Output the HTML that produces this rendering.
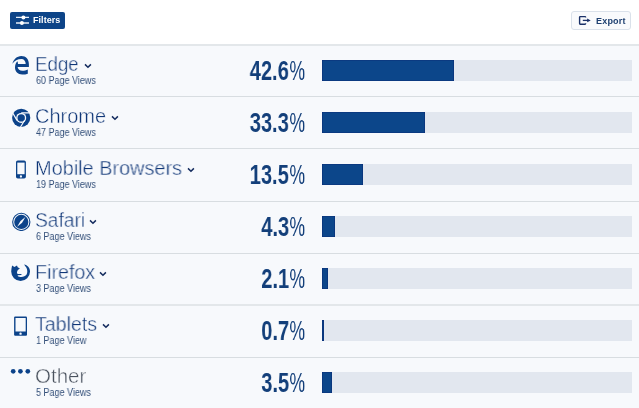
<!DOCTYPE html>
<html><head><meta charset="utf-8"><style>
*{margin:0;padding:0;box-sizing:border-box}
.lab,.sub,.pd,.pp,#filters span,#export span{will-change:transform}
html,body{width:639px;height:408px;overflow:hidden;background:#fff;font-family:"Liberation Sans",sans-serif}
.btn{position:absolute;border-radius:2px}
#filters{left:10px;top:12px;width:55px;height:17px;background:#0d4488}
#filters span{position:absolute;left:23px;top:3px;font-size:9px;font-weight:bold;color:#fff;letter-spacing:0.05px}
#export{left:571px;top:11px;width:60px;height:19px;background:#f9fafc;border:1px solid #dae1ea;border-radius:3px}
#export span{position:absolute;left:24px;top:3.5px;font-size:9px;font-weight:bold;color:#1d3f70;letter-spacing:0.2px}
.rows{position:absolute;left:0;top:45px;width:639px;height:363px;background:#f7f9fc}
.ln{position:absolute;left:0;width:639px;height:1px;background:#d8dde1}
.row{position:absolute;left:0;width:639px;height:52px}
.ic{position:absolute}
.lab{position:absolute;left:35.3px;top:-8px;font-size:20px;line-height:24px;color:#0f3677;white-space:nowrap;transform-origin:0 50%;-webkit-text-stroke:0.42px #f7f9fc}
.lab.o{color:#4a525e}
.chev{position:absolute;top:0;width:8px;height:10px}
.sub{position:absolute;left:36px;top:14.8px;font-size:10px;line-height:11px;color:#34507a;white-space:nowrap;transform:scaleX(0.9);transform-origin:0 50%}
.pct{position:absolute;left:0;width:305px;top:-4.1px;height:28px;font-size:28.2px;line-height:28px;color:#133f7a;white-space:nowrap}
.pd{position:absolute;right:16px;top:0;font-weight:bold;transform:scaleX(0.713);transform-origin:right center}
.pp{position:absolute;right:0.3px;top:0;font-weight:normal;transform:scaleX(0.62);transform-origin:right center}
.trk{position:absolute;left:322px;top:0;width:310px;height:21px;background:#e2e7ef}
.bar{position:absolute;left:0;top:0;height:21px;background:#0c468a;box-shadow:inset 0 0 0 0.6px #0a2f78}
</style></head><body>
<div class="btn" id="filters"><svg style="position:absolute;left:5px;top:2px" width="15" height="14" viewBox="5 2 15 14"><path d="M6 5.4 H19 M6 11 H19" stroke="#e8eef8" stroke-width="1.3"/><circle cx="13.4" cy="5.4" r="2" fill="#fff"/><circle cx="11.9" cy="11" r="2" fill="#fff"/></svg><span>Filters</span></div>
<div class="btn" id="export"><svg style="position:absolute;left:6px;top:2.5px" width="14" height="11" viewBox="578 15 14 11"><path d="M585.6 17.6 V17.2 Q585.6 16.6 585 16.6 H580.2 Q579.6 16.6 579.6 17.2 V23.6 Q579.6 24.2 580.2 24.2 H585 Q585.6 24.2 585.6 23.6 V23.2" fill="none" stroke="#1a3068" stroke-width="1.4"/><path d="M582.8 20.4 H588" stroke="#1a3068" stroke-width="1.3"/><path d="M587.2 18.6 L590.7 20.4 L587.2 22.2 Z" fill="#1a3068"/></svg><span>Export</span></div>
<div class="rows"></div>

<div class="ln" style="top:44px;height:2px;background:#e3e7ea"></div>
<div class="ln" style="top:96px"></div>
<div class="ln" style="top:148px"></div>
<div class="ln" style="top:201px"></div>
<div class="ln" style="top:253px"></div>
<div class="ln" style="top:304px;height:2px;background:#e3e7ea"></div>
<div class="ln" style="top:357px"></div>
<div class="row" style="top:60px"><svg class="ic" style="left:11px;top:-5px" width="20" height="21" viewBox="0 0 20 21"><g transform="translate(0.00,0.40)"><path fill="#0c438a" d="M1.4 8.3 C2.4 4.2 6.0 0.6 10.3 0.6 C15.0 0.6 18.0 4.1 17.9 9.0 L17.9 11.5 L6.6 11.5 C6.9 13.9 8.8 15.3 11.3 15.3 C13.4 15.3 15.2 14.7 16.8 14.0 L16.8 18.3 C15.2 18.9 13.3 19.2 11.2 19.2 C6.8 19.2 4.0 16.2 4.0 12.2 C4.0 9.6 4.8 7.4 6.4 5.8 C6.9 6.8 7.0 7.6 7.0 8.6 L14.7 8.6 C14.7 5.6 12.9 3.6 10.5 3.6 C6.5 3.6 3.4 5.6 1.4 8.3 Z"/></g></svg><div class="lab" style="transform:scaleX(0.935)">Edge</div><svg class="chev" style="left:83.6px" width="8" height="10" viewBox="83.6 0 8 10"><path d="M84.6 4.4 L87.55 7.2 L90.5 4.4" fill="none" stroke="#142c5e" stroke-width="1.5"/></svg><div class="sub">60 Page Views</div><div class="pct"><span class="pd">42.6</span><span class="pp">%</span></div><div class="trk"><div class="bar" style="width:132.0px"></div></div></div>
<div class="row" style="top:112px"><svg class="ic" style="left:12px;top:-4px" width="19" height="19" viewBox="0 0 19 19"><g transform="translate(0.00,0.50)"><circle cx="9.2" cy="9.3" r="9.1" fill="#0c438a"/><circle cx="9.2" cy="9.4" r="5.0" fill="#f7f9fc"/><circle cx="9.2" cy="9.4" r="3.7" fill="#0c438a"/><path d="M9.2 4.4 L17.6 4.4 M5.0 11.9 L0.9 4.7 M12.6 11.7 L8.4 18.7" stroke="#f7f9fc" stroke-width="1.2"/></g></svg><div class="lab" style="transform:scaleX(0.996)">Chrome</div><svg class="chev" style="left:111.1px" width="8" height="10" viewBox="111.1 0 8 10"><path d="M112.1 4.4 L115.05 7.2 L118.0 4.4" fill="none" stroke="#142c5e" stroke-width="1.5"/></svg><div class="sub">47 Page Views</div><div class="pct"><span class="pd">33.3</span><span class="pp">%</span></div><div class="trk"><div class="bar" style="width:103.0px"></div></div></div>
<div class="row" style="top:164px"><svg class="ic" style="left:16px;top:-4px" width="10" height="19" viewBox="0 0 10 19"><g transform="translate(0.00,0.40)"><rect x="0" y="0" width="9.9" height="18.2" rx="1.8" fill="#0c438a"/><rect x="1.3" y="2.2" width="7.3" height="11.6" fill="#f7f9fc"/><circle cx="4.95" cy="16.1" r="1.15" fill="#f7f9fc"/></g></svg><div class="lab" style="transform:scaleX(0.995)">Mobile Browsers</div><svg class="chev" style="left:187.2px" width="8" height="10" viewBox="187.2 0 8 10"><path d="M188.2 4.4 L191.15 7.2 L194.1 4.4" fill="none" stroke="#142c5e" stroke-width="1.5"/></svg><div class="sub">19 Page Views</div><div class="pct"><span class="pd">13.5</span><span class="pp">%</span></div><div class="trk"><div class="bar" style="width:41.0px"></div></div></div>
<div class="row" style="top:216px"><svg class="ic" style="left:12px;top:-4px" width="19" height="19" viewBox="0 0 19 19"><g transform="translate(0.00,0.50)"><circle cx="9.3" cy="9.4" r="8.6" fill="none" stroke="#0c438a" stroke-width="1.1"/><circle cx="9.3" cy="9.4" r="7.1" fill="#0c438a"/><path d="M13.4 4.5 L10.1 10.2 L5.1 14.3 L8.5 8.6 Z" fill="#f7f9fc"/></g></svg><div class="lab" style="transform:scaleX(0.96)">Safari</div><svg class="chev" style="left:89.4px" width="8" height="10" viewBox="89.4 0 8 10"><path d="M90.4 4.4 L93.35 7.2 L96.3 4.4" fill="none" stroke="#142c5e" stroke-width="1.5"/></svg><div class="sub">6 Page Views</div><div class="pct"><span class="pd">4.3</span><span class="pp">%</span></div><div class="trk"><div class="bar" style="width:13.3px"></div></div></div>
<div class="row" style="top:268px"><svg class="ic" style="left:10px;top:-5px" width="20" height="20" viewBox="0 0 20 20"><g transform="translate(0.50,0.50)"><path fill="#0c438a" d="M13.6 1.1 C17.0 1.5 19.6 4.6 19.5 8.2 A9.4 9.4 0 0 1 10.1 17.4 A9.4 9.4 0 0 1 0.7 8.0 L1.0 5.0 L1.6 2.0 L3.9 3.4 L6.5 2.0 L7.2 3.8 L9.4 5.1 L7.3 6.6 L6.4 8.8 L7.0 10.4 L11.0 10.5 L10.9 11.6 L7.3 11.7 L7.2 12.4 C9.0 13.9 14.4 14.0 16.1 11.0 C17.3 8.8 16.9 5.0 15.0 3.0 Z"/></g></svg><div class="lab" style="transform:scaleX(0.985)">Firefox</div><svg class="chev" style="left:99.3px" width="8" height="10" viewBox="99.3 0 8 10"><path d="M100.3 4.4 L103.25 7.2 L106.2 4.4" fill="none" stroke="#142c5e" stroke-width="1.5"/></svg><div class="sub">3 Page Views</div><div class="pct"><span class="pd">2.1</span><span class="pp">%</span></div><div class="trk"><div class="bar" style="width:6.0px"></div></div></div>
<div class="row" style="top:320px"><svg class="ic" style="left:14px;top:-4px" width="14" height="21" viewBox="0 0 14 21"><g transform="translate(0.10,0.40)"><rect x="0" y="0" width="12.9" height="19.4" rx="1.1" fill="#0c438a"/><rect x="1.4" y="1.6" width="10.2" height="13.5" fill="#f7f9fc"/><circle cx="6.45" cy="17.25" r="1.2" fill="#f7f9fc"/></g></svg><div class="lab" style="transform:scaleX(0.98)">Tablets</div><svg class="chev" style="left:102.3px" width="8" height="10" viewBox="102.3 0 8 10"><path d="M103.3 4.4 L106.25 7.2 L109.2 4.4" fill="none" stroke="#142c5e" stroke-width="1.5"/></svg><div class="sub">1 Page View</div><div class="pct"><span class="pd">0.7</span><span class="pp">%</span></div><div class="trk"><div class="bar" style="width:1.7px"></div></div></div>
<div class="row" style="top:372px"><svg class="ic" style="left:10px;top:-4px" width="22" height="7" viewBox="0 0 22 7"><g transform="translate(0.00,0.00)"><circle cx="3.2" cy="3.3" r="2.35" fill="#0c438a"/><circle cx="10.4" cy="3.3" r="2.35" fill="#0c438a"/><circle cx="17.8" cy="3.3" r="2.35" fill="#0c438a"/></g></svg><div class="lab o" style="transform:scaleX(1.026)">Other</div><div class="sub">5 Page Views</div><div class="pct"><span class="pd">3.5</span><span class="pp">%</span></div><div class="trk"><div class="bar" style="width:10.0px"></div></div></div>
</body></html>
